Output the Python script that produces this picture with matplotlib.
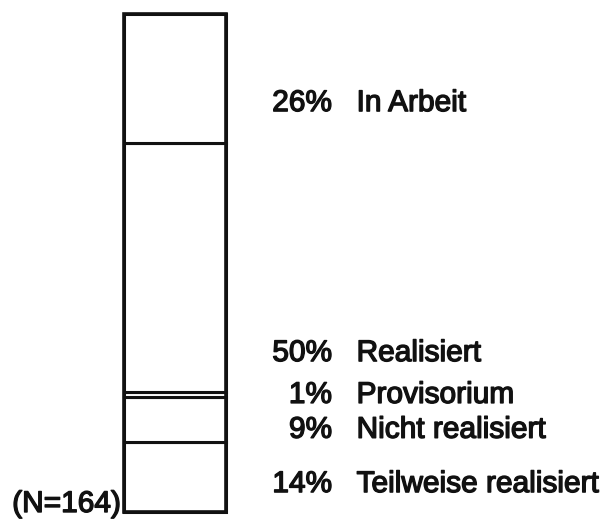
import matplotlib
matplotlib.use("Agg")
import matplotlib.pyplot as plt
import matplotlib.patheffects as pe
from matplotlib.transforms import blended_transform_factory

categories = ["Teilweise realisiert", "Nicht realisiert", "Provisorium", "Realisiert", "In Arbeit"]
values = [14, 9, 1, 50, 26]
pct_labels = ["14%", "9%", "1%", "50%", "26%"]
n_label = "(N=164)"

W, H = 606, 519
fig = plt.figure(figsize=(W / 100, H / 100), dpi=100)
fig.patch.set_facecolor("white")
ax = fig.add_axes([124 / W, 7 / H, 102 / W, 498 / H])
ax.set_xlim(0, 1)
ax.set_ylim(0, sum(values))
ax.axis("off")

bottom = 0
for v in values:
    ax.bar(0.5, v, width=1.0, bottom=bottom, facecolor="white",
           edgecolor="#111111", linewidth=2.2, clip_on=False)
    bottom += v
# thicker outer frame
ax.bar(0.5, sum(values), width=1.0, bottom=0, facecolor="none",
       edgecolor="#111111", linewidth=2.6, clip_on=False)

# label baselines (data units) — labels are not exactly at segment centres
label_y = [4.0, 14.9, 21.9, 30.3, 80.5]
tr = blended_transform_factory(ax.transAxes, ax.transData)
font = dict(family=["Liberation Sans", "DejaVu Sans"], fontsize=21.5,
            color="#111111",
            path_effects=[pe.withStroke(linewidth=1.0, foreground="#111111")])
for cat, pl, y in zip(categories, pct_labels, label_y):
    ax.text(2.04, y, pl, transform=tr, ha="right", va="baseline", clip_on=False, **font)
    ax.text(2.28, y, cat, transform=tr, ha="left", va="baseline", clip_on=False, **font)

ax.text(-0.03, 0, n_label, transform=tr, ha="right", va="baseline", clip_on=False, **font)

fig.savefig("out.png", dpi=100, facecolor="white")
